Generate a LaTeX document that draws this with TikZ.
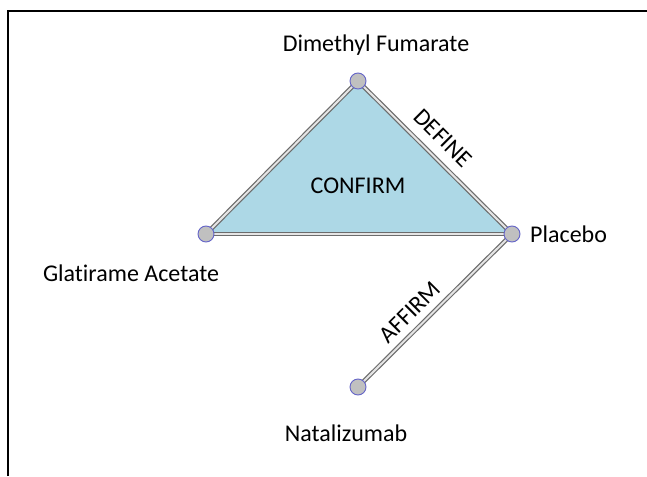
\documentclass[tikz,border=0pt]{standalone}
\usepackage{fontspec}
\setmainfont[Ligatures=NoCommon]{Carlito}
\begin{document}
\begin{tikzpicture}[x=1pt,y=-1pt,
  vert/.style={circle,draw={rgb,255:red,100;green,100;blue,200},fill={rgb,255:red,192;green,192;blue,192},line width=0.9pt,minimum size=16pt,inner sep=0pt},
  edge/.style={draw=gray!85!black,double=gray!20,line width=1.2pt,double distance=2pt},
  lab/.style={font=\fontsize{24}{28}\selectfont,inner sep=0pt}]
\useasboundingbox (0,0) rectangle (647,476);
\fill[white] (0,0) rectangle (647,476);
\draw[line width=2.5pt] (8,476) -- (8,11) -- (647,11);
\coordinate (d) at (358,81);
\coordinate (g) at (206,234);
\coordinate (p) at (512,234);
\coordinate (n) at (358,387);
\fill[fill={rgb,255:red,173;green,216;blue,230}] (d) -- (p) -- (g) -- cycle;
\draw[edge] (d) -- (g);
\draw[edge] (g) -- (p);
\draw[edge] (d) -- (p);
\draw[edge] (p) -- (n);
\node[vert] (D) at (d) {};
\node[vert] (G) at (g) {};
\node[vert] (P) at (p) {};
\node[vert] (N) at (n) {};
\node[lab] (tD) at (376,45) {Dimethyl Fumarate};
\node[lab] (tG) at (131,273) {Glatirame Acetate};
\node[lab,anchor=west] (tP) at (530,234) {Placebo};
\node[lab] (tN) at (346,433) {Natalizumab};
\node[lab] (tC) at (358,186) {CONFIRM};
\node[lab,rotate=-45] (tDe) at (443,138) {DEFINE};
\node[lab,rotate=45] (tA) at (410,312) {AFFIRM};
\end{tikzpicture}
\end{document}
